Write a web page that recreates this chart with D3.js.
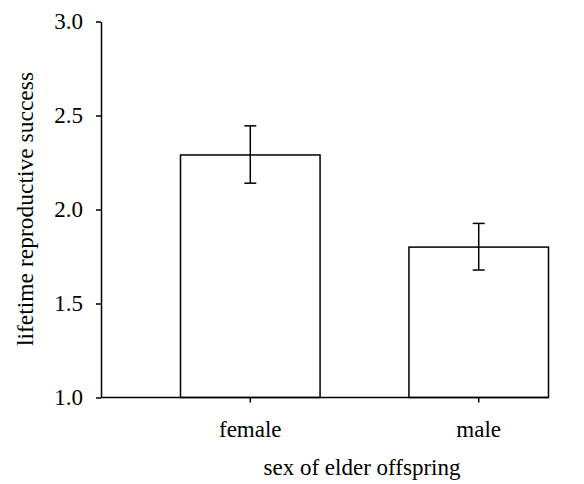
<!DOCTYPE html>
<html>
<head>
<meta charset="utf-8">
<script src="https://cdn.jsdelivr.net/npm/d3@7"></script>
<style>
  html, body { margin: 0; padding: 0; background: #fff; }
  svg { display: block; }
  text { font-family: "Liberation Serif", "Times New Roman", serif; fill: #000; }
</style>
</head>
<body>
<svg id="chart" width="584" height="484"></svg>
<script>
const categories = ["female", "male"];
const means = [2.29, 1.80];
const lowerErr = [2.14, 1.678];
const upperErr = [2.445, 1.926];
const yTicks = [1.0, 1.5, 2.0, 2.5, 3.0];
const xTitle = "sex of elder offspring";
const yTitle = "lifetime reproductive success";

const svg = d3.select("#chart");
const axisX = 101;
const baseY = 397.5;
const fs = "23px";

const y = d3.scaleLinear().domain([1, 3]).range([baseY, 21.5]);
const x = d3.scaleBand().domain(categories).range([180.5, 548.5])
  .paddingInner(0.389).paddingOuter(0);

const data = categories.map((c, i) => ({ c, m: means[i], lo: lowerErr[i], hi: upperErr[i] }));

// bars
svg.append("g").selectAll("rect").data(data).join("rect")
  .attr("x", d => x(d.c))
  .attr("y", d => y(d.m))
  .attr("width", x.bandwidth())
  .attr("height", d => y(1) - y(d.m))
  .attr("fill", "#fff")
  .attr("stroke", "#000")
  .attr("stroke-width", 1.5);

// error bars
const eb = svg.append("g").attr("stroke", "#000").attr("stroke-width", 1.5);
data.forEach(d => {
  const cx = x(d.c) + x.bandwidth() / 2;
  eb.append("line").attr("x1", cx).attr("x2", cx).attr("y1", y(d.hi)).attr("y2", y(d.lo));
  eb.append("line").attr("x1", cx - 6).attr("x2", cx + 6).attr("y1", y(d.hi)).attr("y2", y(d.hi));
  eb.append("line").attr("x1", cx - 6).attr("x2", cx + 6).attr("y1", y(d.lo)).attr("y2", y(d.lo));
});

// y axis
const gy = svg.append("g").attr("transform", `translate(${axisX},0)`)
  .call(d3.axisLeft(y).tickValues(yTicks).tickFormat(d3.format(".1f"))
    .tickSize(5).tickSizeOuter(0).tickPadding(13));
gy.selectAll("path,line").attr("stroke", "#000").attr("stroke-width", 1.5);
gy.selectAll("text").style("font-size", fs).attr("font-family", null);

// x axis
const gx = svg.append("g").attr("transform", `translate(0,${baseY})`)
  .call(d3.axisBottom(x).tickSize(5).tickSizeOuter(0).tickPadding(18));
gx.select(".domain").remove();
gx.selectAll("line").attr("stroke", "#000").attr("stroke-width", 1.5);
gx.selectAll("text").style("font-size", fs).attr("font-family", null);
gx.append("line").attr("x1", axisX).attr("x2", x.range()[1]).attr("y1", 0).attr("y2", 0)
  .attr("stroke", "#000").attr("stroke-width", 1.5);

// titles
svg.append("text").attr("x", 362).attr("y", 475).attr("text-anchor", "middle")
  .style("font-size", fs).text(xTitle);
svg.append("text").attr("transform", `translate(33,209) rotate(-90)`).attr("text-anchor", "middle")
  .style("font-size", "23.5px").text(yTitle);
</script>
</body>
</html>
